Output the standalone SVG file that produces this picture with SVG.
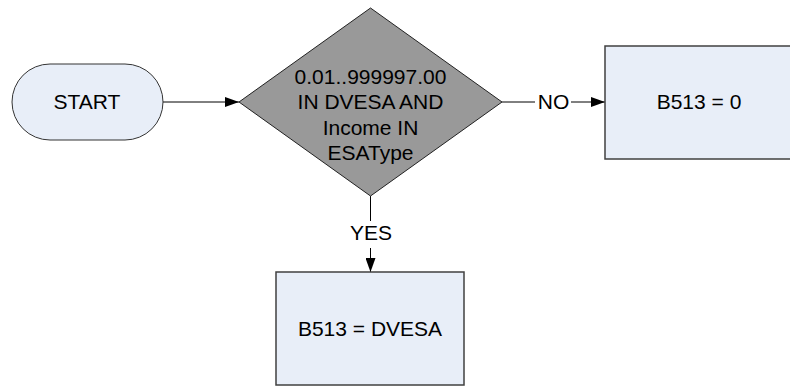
<svg xmlns="http://www.w3.org/2000/svg" width="790" height="386" viewBox="0 0 790 386">
<style>
  .lbl { font-family: "Liberation Sans", Arial, sans-serif; font-size: 21px; fill: #000; text-anchor: middle; }
  .proc { fill: #E8EEF8; stroke: #404040; stroke-width: 1.5; }
  .term { fill: #E8EEF8; stroke: #333; stroke-width: 1; }
  .dec { fill: #999999; stroke: #222; stroke-width: 1; }
  .conn { fill: none; stroke: #000; stroke-width: 1; }
</style>
<defs>
  <marker id="arr" viewBox="0 0 14 10" refX="14" refY="5" markerWidth="14" markerHeight="10" markerUnits="userSpaceOnUse" orient="auto">
    <path d="M0,0 L14,5 L0,10 Z" fill="#000"/>
  </marker>
</defs>
<rect width="790" height="386" fill="#fff"/>
<g id="connectors">
  <line class="conn" x1="163" y1="102" x2="239" y2="102" marker-end="url(#arr)"/>
  <line class="conn" x1="502" y1="102" x2="535" y2="102"/>
  <line class="conn" x1="571" y1="102" x2="605" y2="102" marker-end="url(#arr)"/>
  <text class="lbl" x="553.5" y="109">NO</text>
  <line class="conn" x1="370.5" y1="196" x2="370.5" y2="221" stroke="#444"/>
  <line class="conn" x1="370.5" y1="248" x2="370.5" y2="272" marker-end="url(#arr)"/>
  <text class="lbl" x="371" y="240">YES</text>
</g>
<g id="start">
  <rect class="term" x="12" y="64" width="151" height="76" rx="38" ry="38"/>
  <text class="lbl" x="87" y="109">START</text>
</g>
<g id="decision">
  <polygon class="dec" points="370.5,8 502,102 370.5,196 239,102"/>
  <text class="lbl" x="370.5" y="83.5">0.01..999997.00</text>
  <text class="lbl" x="370.5" y="109">IN DVESA AND</text>
  <text class="lbl" x="370.5" y="134.5">Income IN</text>
  <text class="lbl" x="370.5" y="160">ESAType</text>
</g>
<g id="b513zero">
  <rect class="proc" x="605" y="46" width="188" height="113"/>
  <text class="lbl" x="699" y="109">B513 = 0</text>
</g>
<g id="b513dvesa">
  <rect class="proc" x="276" y="272" width="188" height="113"/>
  <text class="lbl" x="370" y="336">B513 = DVESA</text>
</g>
</svg>
